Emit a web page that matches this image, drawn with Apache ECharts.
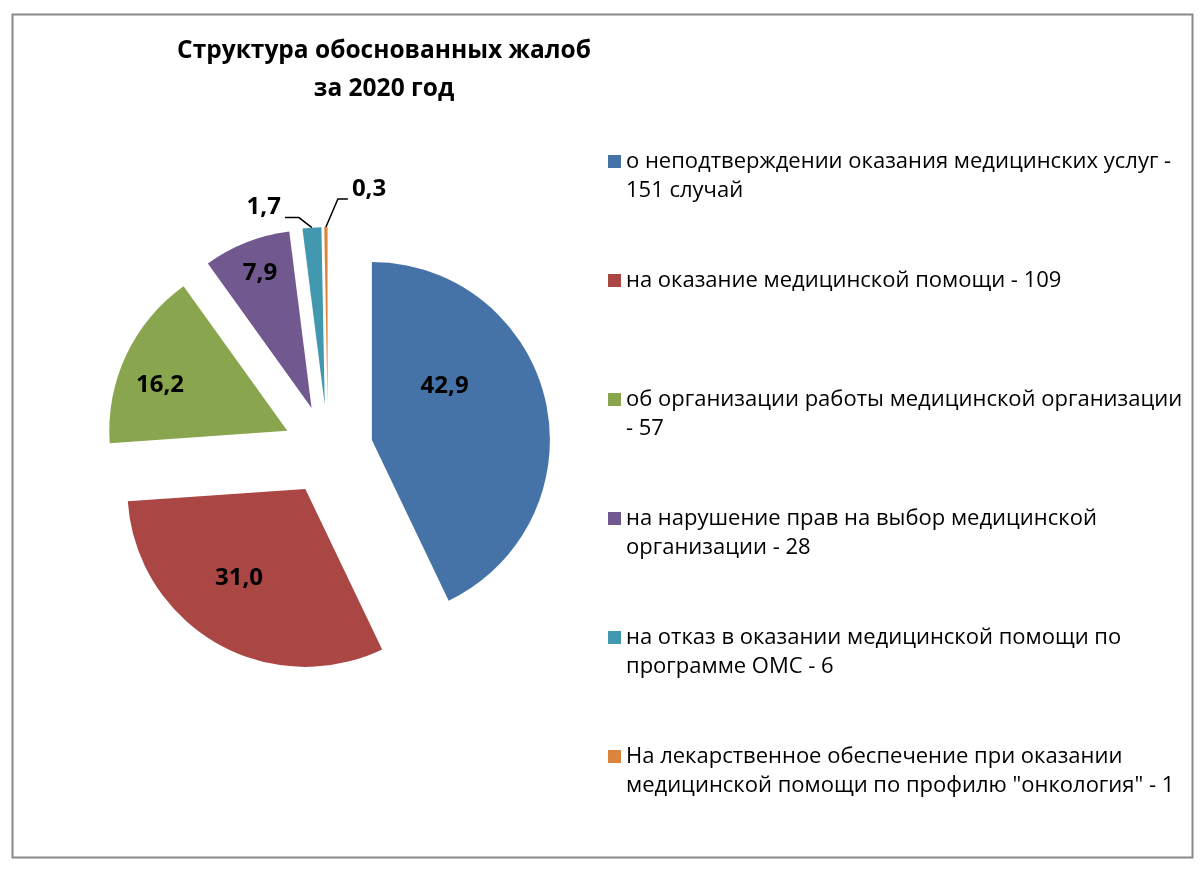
<!DOCTYPE html>
<html>
<head>
<meta charset="utf-8">
<script src="https://cdn.jsdelivr.net/npm/echarts@6/dist/echarts.min.js"></script>
<style>
html,body{margin:0;padding:0;background:#fff;}
#chart{width:1204px;height:880px;}
</style>
</head>
<body>
<div id="chart"></div>
<script>
const titleText = 'Структура обоснованных жалоб\nза 2020 год';
const categories = [
  'о неподтверждении оказания медицинских услуг -\n151 случай',
  'на оказание медицинской помощи - 109',
  'об организации работы медицинской организации\n- 57',
  'на нарушение прав на выбор медицинской\nорганизации - 28',
  'на отказ в оказании медицинской помощи по\nпрограмме ОМС - 6',
  'На лекарственное обеспечение при оказании\nмедицинской помощи по профилю "онкология" - 1'
];
const percents = [42.9, 31.0, 16.2, 7.9, 1.7, 0.3];
const colors = ['#4572A7', '#AA4643', '#89A54E', '#71588F', '#4198AF', '#DB843D'];

// label style tweaks (not data)
const insideShift = [[-17, -34], [-20, 10], [-44, -7], [-18, -49]];
const FONT = '"Open Sans", "Noto Sans", sans-serif';
// legend marker: 13px square aligned with first text line in a 13x58 box
const LEGEND_ICON = 'path://M0,0h0.01v0.01h-0.01z M0,8h13v13h-13z M0,57.99h0.01v0.01h-0.01z';

const chart = echarts.init(document.getElementById('chart'), null, {renderer: 'canvas'});

const data = categories.map((name, i) => ({
  name: name,
  value: percents[i],
  selected: true,
  itemStyle: {color: colors[i]},
  label: i < 4 ? {position: 'inside'} : {position: 'outside'},
  labelLine: {show: i >= 4}
}));

chart.setOption({
  animation: false,
  backgroundColor: '#fff',
  graphic: [{
    type: 'rect', left: 10, top: 12, z: -10,
    shape: {width: 1180, height: 843},
    style: {fill: 'none', stroke: '#888', lineWidth: 2}
  }],
  title: {
    text: titleText,
    left: 379, top: 27, textAlign: 'center',
    textStyle: {fontFamily: FONT, fontSize: 24.5, fontWeight: 'bold', color: '#000', lineHeight: 38}
  },
  legend: {
    orient: 'vertical',
    left: 603, top: 142,
    itemWidth: 13, itemHeight: 58, itemGap: 61,
    icon: LEGEND_ICON,
    selectedMode: false,
    formatter: n => n.indexOf('\n') >= 0 ? n : n + '\n ',
    textStyle: {fontFamily: FONT, fontSize: 22, color: '#000', lineHeight: 29},
    data: categories
  },
  series: [{
    type: 'pie',
    center: [328, 450],
    radius: 178,
    startAngle: 90,
    clockwise: true,
    selectedMode: 'multiple',
    selectedOffset: 45,
    avoidLabelOverlap: false,
    emphasis: {disabled: true},
    label: {
      formatter: p => p.value.toFixed(1).replace('.', ','),
      fontFamily: FONT, fontSize: 24, fontWeight: 'bold', color: '#000'
    },
    labelLine: {lineStyle: {color: '#000', width: 1.5}, length: 15, length2: 15},
    labelLayout: function (params) {
      const i = params.dataIndex;
      if (i < 4) {
        return {dx: insideShift[i][0], dy: insideShift[i][1]};
      }
      const p0 = params.labelLinePoints && params.labelLinePoints[0];
      const r = params.labelRect;
      if (!p0 || !r) return {};
      if (i === 4) {
        const p1 = [p0[0] - 13, p0[1] - 10];
        const p2 = [p1[0] - 14, p1[1]];
        return {
          dx: (p2[0] - 4) - (r.x + r.width),
          dy: (p1[1] - 10) - (r.y + r.height / 2),
          labelLinePoints: [p0, p1, p2]
        };
      }
      const p1 = [p0[0] + 12, p0[1] - 28];
      const p2 = [p1[0] + 10, p1[1]];
      return {
        dx: (p2[0] + 4) - r.x,
        dy: (p1[1] - 10) - (r.y + r.height / 2),
        labelLinePoints: [p0, p1, p2]
      };
    },
    data: data
  }]
});
</script>
</body>
</html>
